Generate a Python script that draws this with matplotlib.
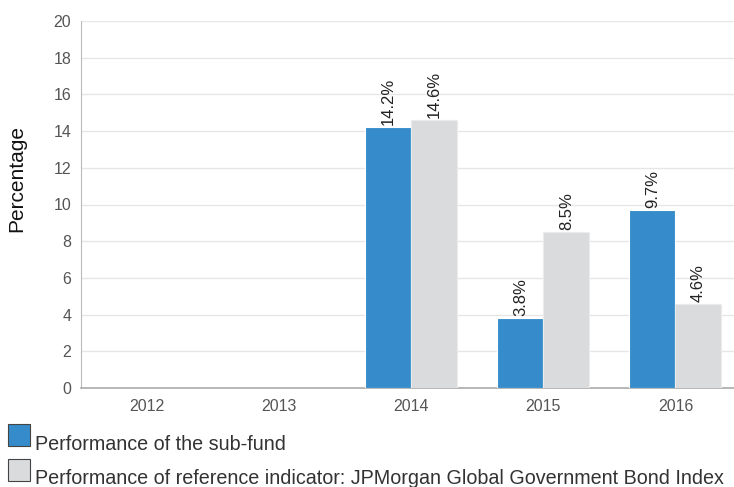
import matplotlib
matplotlib.use('Agg')
import matplotlib.pyplot as plt
import numpy as np
from matplotlib.patches import Rectangle

years = ["2012", "2013", "2014", "2015", "2016"]
fund = [np.nan, np.nan, 14.2, 3.8, 9.7]
index = [np.nan, np.nan, 14.6, 8.5, 4.6]
fund_labels = ["", "", "14.2%", "3.8%", "9.7%"]
index_labels = ["", "", "14.6%", "8.5%", "4.6%"]
legend_labels = ["Performance of the sub-fund",
                 "Performance of reference indicator: JPMorgan Global Government Bond Index"]

BLUE = '#368CCB'
GREY = '#DADBDD'
W, H = 734, 487

plt.rcParams['font.family'] = ['Liberation Sans', 'DejaVu Sans']

fig = plt.figure(figsize=(W / 100, H / 100), dpi=100)
ax = fig.add_axes([81 / W, 1 - 388 / H, (741.5 - 81) / W, (388 - 21) / H])

x = np.arange(len(years))
bw = 0.348
b1 = ax.bar(x - bw / 2, fund, bw, color=BLUE, edgecolor='white', lw=0.8, zorder=3)
b2 = ax.bar(x + bw / 2, index, bw, color=GREY, edgecolor='#ECECEC', lw=0.8, zorder=3)

for bars, labs in ((b1, fund_labels), (b2, index_labels)):
    for r, lab in zip(bars, labs):
        if not lab:
            continue
        ax.annotate(lab, (r.get_x() + r.get_width() / 2, r.get_height()),
                    xytext=(0, 1.5), textcoords='offset points', rotation=90,
                    ha='center', va='bottom', fontsize=12, color='#222222')

ax.set_xlim(-0.5, len(years) - 0.5)
ax.set_ylim(0, 20)
ax.set_yticks(np.arange(0, 21, 2))
ax.set_xticks(x)
ax.set_xticklabels(years)
ax.tick_params(length=0, labelsize=11.5, labelcolor='#555555')
ax.tick_params(axis='x', pad=8)
ax.tick_params(axis='y', pad=7)
ax.grid(axis='y', color='#E6E6E6', lw=1, zorder=0)
for s in ('top', 'right'):
    ax.spines[s].set_visible(False)
ax.spines['left'].set_color('#BBBBBB')
ax.spines['bottom'].set_color('#AAAAAA')
ax.spines['bottom'].set_linewidth(1.2)

fig.text(17 / W, 1 - 178 / H, "Percentage", rotation=90, ha='center', va='center',
         fontsize=15, color='#111111')

# legend drawn by hand
for i, (lab, col) in enumerate(zip(legend_labels, [BLUE, GREY])):
    top = 424 + i * 35
    fig.patches.append(Rectangle((8 / W, 1 - (top + 22) / H), 22 / W, 22 / H,
                                 transform=fig.transFigure, facecolor=col,
                                 edgecolor='#444444', lw=0.8))
    fig.text(35 / W, 1 - (top + 25.5) / H, lab, ha='left', va='baseline',
             fontsize=14.2, color='#333333')

fig.savefig('out.png', dpi=100, facecolor='white')
